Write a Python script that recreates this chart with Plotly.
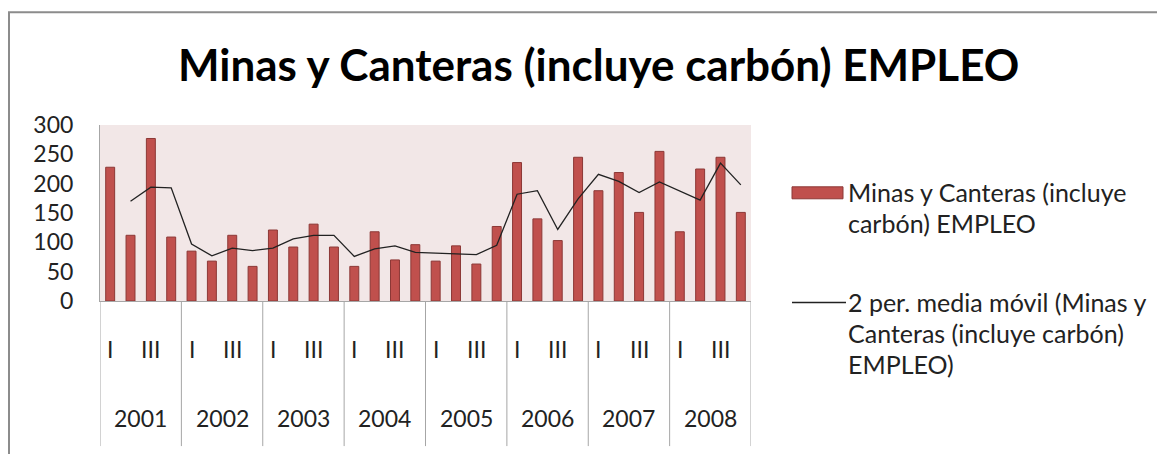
import plotly.graph_objects as go

years = ["2001", "2002", "2003", "2004", "2005", "2006", "2007", "2008"]
quarters = ["I", "II", "III", "IV"]
quarter_shown = ["I", "III"]

empleo = [228, 112, 277, 109,
          85, 68, 112, 59,
          121, 92, 131, 92,
          59, 118, 70, 96,
          68, 94, 63, 127,
          236, 140, 103, 245,
          188, 219, 151, 255,
          118, 225, 245, 151]

# media movil de 2 periodos (sin valor en el primer trimestre)
media_movil = [None, 170, 194, 193,
               97, 77, 90, 86,
               90, 106, 112, 112,
               76, 89, 94, 83,
               82, 81, 79, 95,
               182, 188, 122, 174,
               216, 204, 185, 203,
               187, 172, 235, 198]

serie_lines = ["Minas y Canteras (incluye", "carbón) EMPLEO"]
mm_lines = ["2 per. media móvil (Minas y", "Canteras (incluye carbón)", "EMPLEO)"]

FONT = "Lato"
TXT = "#222222"
BAR = "#C0504D"
n = len(empleo)
xs = list(range(n))

# la pagina deja 8px de margen, asi que todo se mide en pixeles de pagina menos OFF
OFF = 8
WIDTH, HEIGHT = 1165, 454
L, R, T, B = 100 - OFF, 751 - OFF, 125 - OFF, 301.5 - OFF
W, H = R - L, B - T


def px(x):
    return (x - OFF - L) / W


def py(y):
    return (B - (y - OFF)) / H


fig = go.Figure()
fig.add_trace(go.Bar(
    x=xs, y=empleo, name=" ".join(serie_lines), showlegend=False,
    marker=dict(color=BAR, line=dict(color="#8C3836", width=1)),
))
fig.add_trace(go.Scatter(
    x=xs, y=media_movil, name=" ".join(mm_lines), showlegend=False, mode="lines",
    line=dict(color="#222222", width=1.3),
))

annotations = []
shapes = []
for yi, year in enumerate(years):
    for qi, q in enumerate(quarters):
        if q in quarter_shown:
            annotations.append(dict(x=yi * 4 + qi, y=py(350), xref="x", yref="paper",
                                    text=q, showarrow=False, yanchor="middle",
                                    font=dict(size=23, color=TXT, family=FONT)))
    annotations.append(dict(x=yi * 4 + 1.5, y=py(419), xref="x", yref="paper",
                            text=year, showarrow=False, yanchor="middle",
                            font=dict(size=23, color=TXT, family=FONT)))
for k in range(len(years) + 1):
    shapes.append(dict(type="line", x0=k * 4 - 0.5, x1=k * 4 - 0.5, y0=0, y1=py(447),
                       xref="x", yref="paper", line=dict(color="#A6A6A6", width=1)))

# leyenda
shapes.append(dict(type="rect", xref="paper", yref="paper",
                   x0=px(792), x1=px(843), y0=py(187), y1=py(199),
                   line=dict(color="#8C3836", width=1), fillcolor=BAR))
shapes.append(dict(type="line", xref="paper", yref="paper",
                   x0=px(792), x1=px(846), y0=py(303), y1=py(303),
                   line=dict(color="#222222", width=1.3)))
for i, t in enumerate(serie_lines):
    annotations.append(dict(x=px(846), y=py(192 + 31 * i), xref="paper", yref="paper",
                            text=t, showarrow=False, xanchor="left", yanchor="middle",
                            font=dict(size=25, color=TXT, family=FONT)))
for i, t in enumerate(mm_lines):
    annotations.append(dict(x=px(846), y=py(303 + 31 * i), xref="paper", yref="paper",
                            text=t, showarrow=False, xanchor="left", yanchor="middle",
                            font=dict(size=25, color=TXT, family=FONT)))

# marco del grafico
shapes.append(dict(type="rect", xref="paper", yref="paper",
                   x0=px(9), x1=px(1300), y0=py(600), y1=py(12),
                   line=dict(color="#8C8C8C", width=2), fillcolor="rgba(0,0,0,0)"))

fig.update_layout(
    width=WIDTH, height=HEIGHT,
    margin=dict(l=L, r=WIDTH - R, t=T, b=HEIGHT - B, autoexpand=False),
    paper_bgcolor="white",
    plot_bgcolor="#F2E7E7",
    title=dict(text="<b>Minas y Canteras (incluye carbón) EMPLEO</b>",
               x=0.507, xanchor="center", y=1 - (66 - OFF) / HEIGHT, yanchor="middle",
               font=dict(size=44, color="black", family=FONT)),
    bargap=0.56,
    showlegend=False,
    xaxis=dict(range=[-0.5, n - 0.5], showticklabels=False, showgrid=False,
               zeroline=False, showline=True, linecolor="#A6A6A6", linewidth=1,
               fixedrange=True),
    yaxis=dict(range=[0, 300], dtick=50, showgrid=False, zeroline=False,
               showline=True, linecolor="#A6A6A6", linewidth=1,
               ticks="", ticklabelstandoff=21,
               tickfont=dict(size=23, color=TXT, family=FONT)),
    annotations=annotations,
    shapes=shapes,
)

fig.write_html("out.html")
